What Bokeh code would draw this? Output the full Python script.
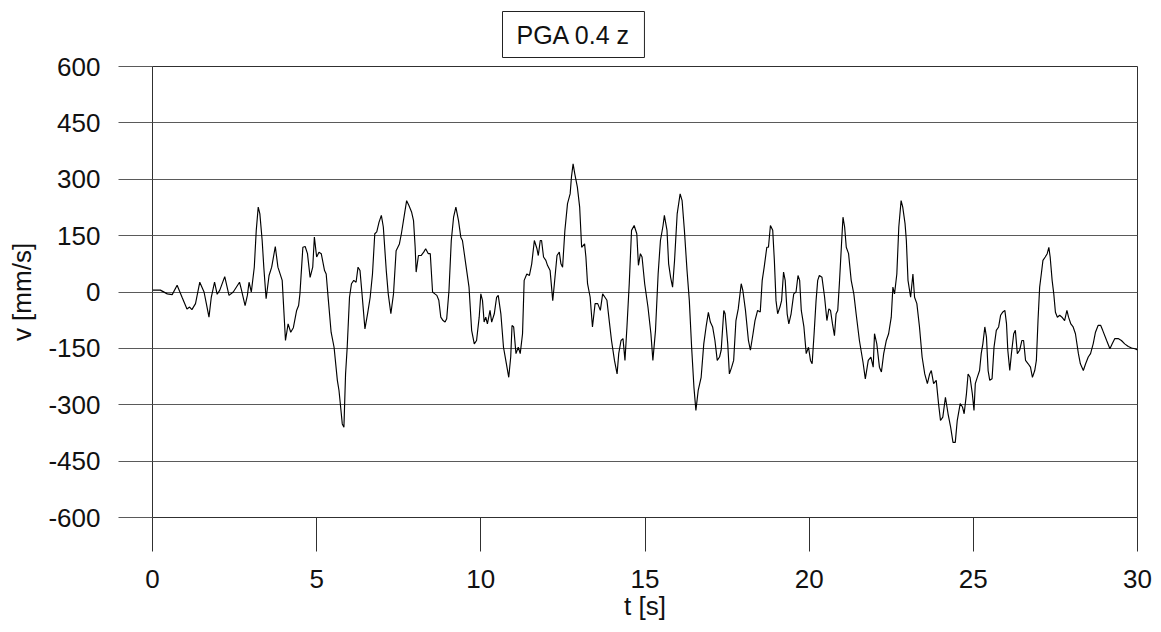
from bokeh.plotting import figure
from bokeh.models import Range1d, FixedTicker
from bokeh.embed import file_html
from bokeh.resources import INLINE

# ---- data ----
t = [0.0, 0.24, 0.45, 0.6, 0.75, 0.9, 1.05, 1.13, 1.2, 1.31, 1.44, 1.57, 1.64, 1.72, 1.79, 1.89, 1.97, 2.05,
     2.2, 2.33, 2.46, 2.65, 2.7, 2.82, 2.89, 2.94, 3.01, 3.1, 3.16, 3.22, 3.27, 3.34, 3.39, 3.46, 3.55, 3.63,
     3.74, 3.82, 3.95, 4.05, 4.13, 4.21, 4.29, 4.39, 4.45, 4.49, 4.58, 4.65, 4.72, 4.8, 4.88, 4.93, 5.0, 5.07,
     5.14, 5.24, 5.29, 5.34, 5.44, 5.53, 5.63, 5.68, 5.73, 5.78, 5.83, 5.88, 5.93, 6.0, 6.06, 6.13, 6.2, 6.26,
     6.32, 6.39, 6.47, 6.55, 6.63, 6.7, 6.77, 6.83, 6.9, 6.97, 7.03, 7.12, 7.18, 7.26, 7.34, 7.42, 7.52, 7.58,
     7.66, 7.74, 7.81, 7.89, 7.95, 8.0, 8.03, 8.1, 8.18, 8.26, 8.32, 8.4, 8.46, 8.53, 8.6, 8.66, 8.72, 8.78,
     8.85, 8.91, 8.96, 9.03, 9.1, 9.17, 9.24, 9.32, 9.39, 9.44, 9.54, 9.64, 9.72, 9.8, 9.87, 9.95, 10.0, 10.05,
     10.1, 10.15, 10.2, 10.28, 10.33, 10.41, 10.48, 10.53, 10.61, 10.69, 10.76, 10.85, 10.91, 10.95, 11.0,
     11.07, 11.14, 11.2, 11.27, 11.32, 11.4, 11.48, 11.55, 11.63, 11.71, 11.75, 11.81, 11.85, 11.91, 11.98,
     12.03, 12.11, 12.19, 12.24, 12.32, 12.39, 12.44, 12.49, 12.56, 12.64, 12.72, 12.76, 12.81, 12.86, 12.94,
     13.01, 13.07, 13.16, 13.2, 13.25, 13.33, 13.4, 13.48, 13.56, 13.64, 13.71, 13.78, 13.84, 13.91, 13.98,
     14.07, 14.15, 14.2, 14.27, 14.33, 14.39, 14.45, 14.52, 14.59, 14.67, 14.75, 14.8, 14.86, 14.91, 14.99,
     15.09, 15.18, 15.24, 15.32, 15.4, 15.47, 15.55, 15.59, 15.67, 15.72, 15.78, 15.84, 15.9, 15.98, 16.07,
     16.13, 16.2, 16.28, 16.35, 16.42, 16.49, 16.55, 16.62, 16.71, 16.79, 16.86, 16.93, 16.99, 17.06, 17.13,
     17.2, 17.27, 17.32, 17.4, 17.44, 17.52, 17.57, 17.64, 17.7, 17.77, 17.84, 17.93, 17.98, 18.06, 18.15,
     18.21, 18.29, 18.35, 18.43, 18.51, 18.57, 18.63, 18.71, 18.76, 18.82, 18.89, 18.94, 18.99, 19.04, 19.11,
     19.16, 19.22, 19.27, 19.33, 19.38, 19.45, 19.53, 19.6, 19.66, 19.71, 19.76, 19.84, 19.91, 19.98, 20.04,
     20.09, 20.15, 20.21, 20.26, 20.31, 20.39, 20.47, 20.54, 20.6, 20.65, 20.71, 20.77, 20.82, 20.87, 20.92,
     20.98, 21.03, 21.08, 21.13, 21.2, 21.28, 21.36, 21.43, 21.53, 21.64, 21.71, 21.8, 21.88, 21.95, 21.99,
     22.06, 22.14, 22.2, 22.27, 22.35, 22.42, 22.5, 22.55, 22.6, 22.67, 22.73, 22.8, 22.85, 22.92, 22.96,
     23.01, 23.09, 23.16, 23.21, 23.28, 23.36, 23.44, 23.52, 23.6, 23.67, 23.72, 23.79, 23.87, 23.94, 24.0,
     24.07, 24.15, 24.23, 24.31, 24.38, 24.45, 24.51, 24.6, 24.67, 24.72, 24.79, 24.84, 24.9, 24.97, 25.02,
     25.06, 25.12, 25.19, 25.24, 25.29, 25.35, 25.4, 25.45, 25.5, 25.57, 25.63, 25.7, 25.77, 25.83, 25.9,
     25.96, 26.01, 26.05, 26.11, 26.16, 26.23, 26.28, 26.34, 26.41, 26.48, 26.53, 26.59, 26.67, 26.74, 26.8,
     26.87, 26.92, 26.97, 27.02, 27.07, 27.12, 27.19, 27.25, 27.3, 27.34, 27.4, 27.45, 27.5, 27.56, 27.63,
     27.7, 27.78, 27.85, 27.9, 27.97, 28.04, 28.11, 28.2, 28.26, 28.35, 28.42, 28.5, 28.57, 28.65, 28.72,
     28.8, 28.88, 28.94, 29.06, 29.16, 29.23, 29.31, 29.41, 29.51, 29.61, 29.72, 29.82, 29.92, 30.0]

v = [5, 5, -5, -7, 18, -14, -45, -40, -47, -31, 26, 0, -31, -67, -14, 26, -6, 5,
     41, -9, 0, 26, 9, -36, -9, 26, 0, 66, 164, 226, 208, 137, 66, -18, 44, 66,
     121, 66, 31, -129, -85, -107, -95, -49, -36, -5, 119, 121, 102, 39, 66, 146, 93, 106,
     102, 57, 48, -5, -107, -147, -235, -262, -306, -351, -360, -218, -147, -14, 22, 31, 26, 66,
     57, -14, -98, -58, -14, 48, 155, 160, 186, 204, 173, 57, -5, -58, -5, 110, 128, 155,
     199, 243, 230, 213, 190, 119, 53, 97, 97, 106, 115, 102, 102, 0, -5, -9, -22, -67,
     -76, -80, -71, 4, 137, 199, 226, 190, 146, 137, 75, 13, -102, -138, -129, -67, -5, -22,
     -80, -67, -85, -49, -80, -58, -14, -9, -58, -147, -182, -227, -173, -89, -93,
     -164, -147, -164, -111, 31, 48, 44, 75, 137, 115, 97, 137, 137, 93, 84,
     71, 57, -23, 22, 97, 106, 75, 66, 164, 235, 261, 306, 341, 315, 279,
     226, 119, 128, 93, 22, -14, -93, -31, -31, -49, -5, -14, -22, -76, -129,
     -182, -218, -164, -129, -124, -182, -93, 22, 164, 177, 155, 71, 102, 93, 22,
     -40, -111, -182, -102, 48, 137, 177, 204, 164, 75, 39, 13, 84, 208, 261,
     243, 164, 57, -23, -147, -253, -315, -262, -227, -138, -93, -54, -80, -93, -129,
     -182, -173, -155, -49, -58, -138, -218, -200, -182, -76, -45, 22, 4, -49, -129,
     -155, -111, -76, -49, -53, 31, 66, 119, 119, 177, 164, 84, -23, -58, -40,
     -23, 53, 31, -58, -85, -58, -5, 0, 44, 31, -49, -93, -164, -147, -182,
     -191, -111, -23, 31, 44, 39, -14, -76, -45, -49, -85, -116, -58, -49, 22,
     119, 199, 173, 119, 102, 31, -5, -58, -129, -187, -231, -182, -173, -200, -111,
     -138, -200, -213, -164, -129, -111, -67, 13, -5, 48, 173, 243, 226, 182, 137,
     31, -14, 48, -14, -31, -93, -173, -218, -244, -218, -209, -244, -235, -297, -342,
     -333, -280, -324, -360, -400, -400, -342, -297, -306, -324, -271, -218, -227, -271, -315,
     -244, -227, -209, -164, -138, -93, -120, -209, -235, -231, -147, -102, -93, -62, -53,
     -49, -84, -155, -209, -164, -111, -102, -164, -155, -129, -129, -182, -191, -200, -227,
     -209, -182, -76, 13, 48, 84, 93, 102, 119, 93, 31, -5, -54, -67, -62,
     -67, -76, -49, -67, -85, -93, -111, -164, -191, -209, -191, -173, -164, -138, -107,
     -89, -89, -102, -129, -151, -138, -124, -124, -129, -138, -145, -149, -151, -154]

x_ticks = [0, 5, 10, 15, 20, 25, 30]
y_ticks = [-600, -450, -300, -150, 0, 150, 300, 450, 600]
title_text = "PGA 0.4 z"
x_label = "t [s]"
y_label = "v [mm/s]"

FONT = "Liberation Sans"
GRID = "#5a5a5a"
AXIS = "#303030"

p = figure(width=1161, height=632, x_range=Range1d(0, 30), y_range=Range1d(-600, 600),
           output_backend="svg", toolbar_location=None,
           min_border_left=152, min_border_right=24, min_border_top=66, min_border_bottom=115)
p.background_fill_color = "white"
p.border_fill_color = "white"
p.outline_line_color = AXIS
p.outline_line_width = 1

p.line(t, v, line_color="black", line_width=1.15)

# axes
for ax in (p.xaxis[0], p.yaxis[0]):
    ax.axis_line_color = AXIS
    ax.major_tick_line_color = AXIS
    ax.major_tick_in = 0
    ax.major_tick_out = 34
    ax.minor_tick_line_color = None
    ax.major_label_text_font = FONT
    ax.major_label_text_font_size = "26px"
    ax.major_label_text_color = "#111111"
    ax.axis_label_text_font = FONT
    ax.axis_label_text_font_size = "26px"
    ax.axis_label_text_font_style = "normal"
    ax.axis_label_text_color = "#111111"

p.xaxis.ticker = FixedTicker(ticks=x_ticks)
p.yaxis.ticker = FixedTicker(ticks=y_ticks)
p.yaxis.major_label_overrides = {yt: str(yt) for yt in y_ticks}
p.xaxis.major_label_overrides = {xt: str(xt) for xt in x_ticks}
p.yaxis.major_tick_line_color = GRID
p.xaxis.major_label_standoff = 18
p.yaxis.major_label_standoff = 18
p.xaxis.axis_label = x_label
p.yaxis.axis_label = y_label
p.xaxis.axis_label_standoff = 0
p.yaxis.axis_label_standoff = 8

p.xgrid.grid_line_color = None
p.ygrid.ticker = FixedTicker(ticks=y_ticks)
p.ygrid.grid_line_color = GRID
p.ygrid.grid_line_width = 1

# boxed title (padding given as (horizontal, vertical))
p.title.text = title_text
p.title.align = "left"
p.title.offset = 350
p.title.standoff = 18
p.title.text_font = FONT
p.title.text_font_size = "25px"
p.title.text_font_style = "normal"
p.title.text_color = "#111111"
p.title.border_line_color = "#222222"
p.title.border_line_width = 1
p.title.background_fill_color = "white"
p.title.padding = (14, 9)

open("out.html", "w").write(file_html(p, INLINE))
